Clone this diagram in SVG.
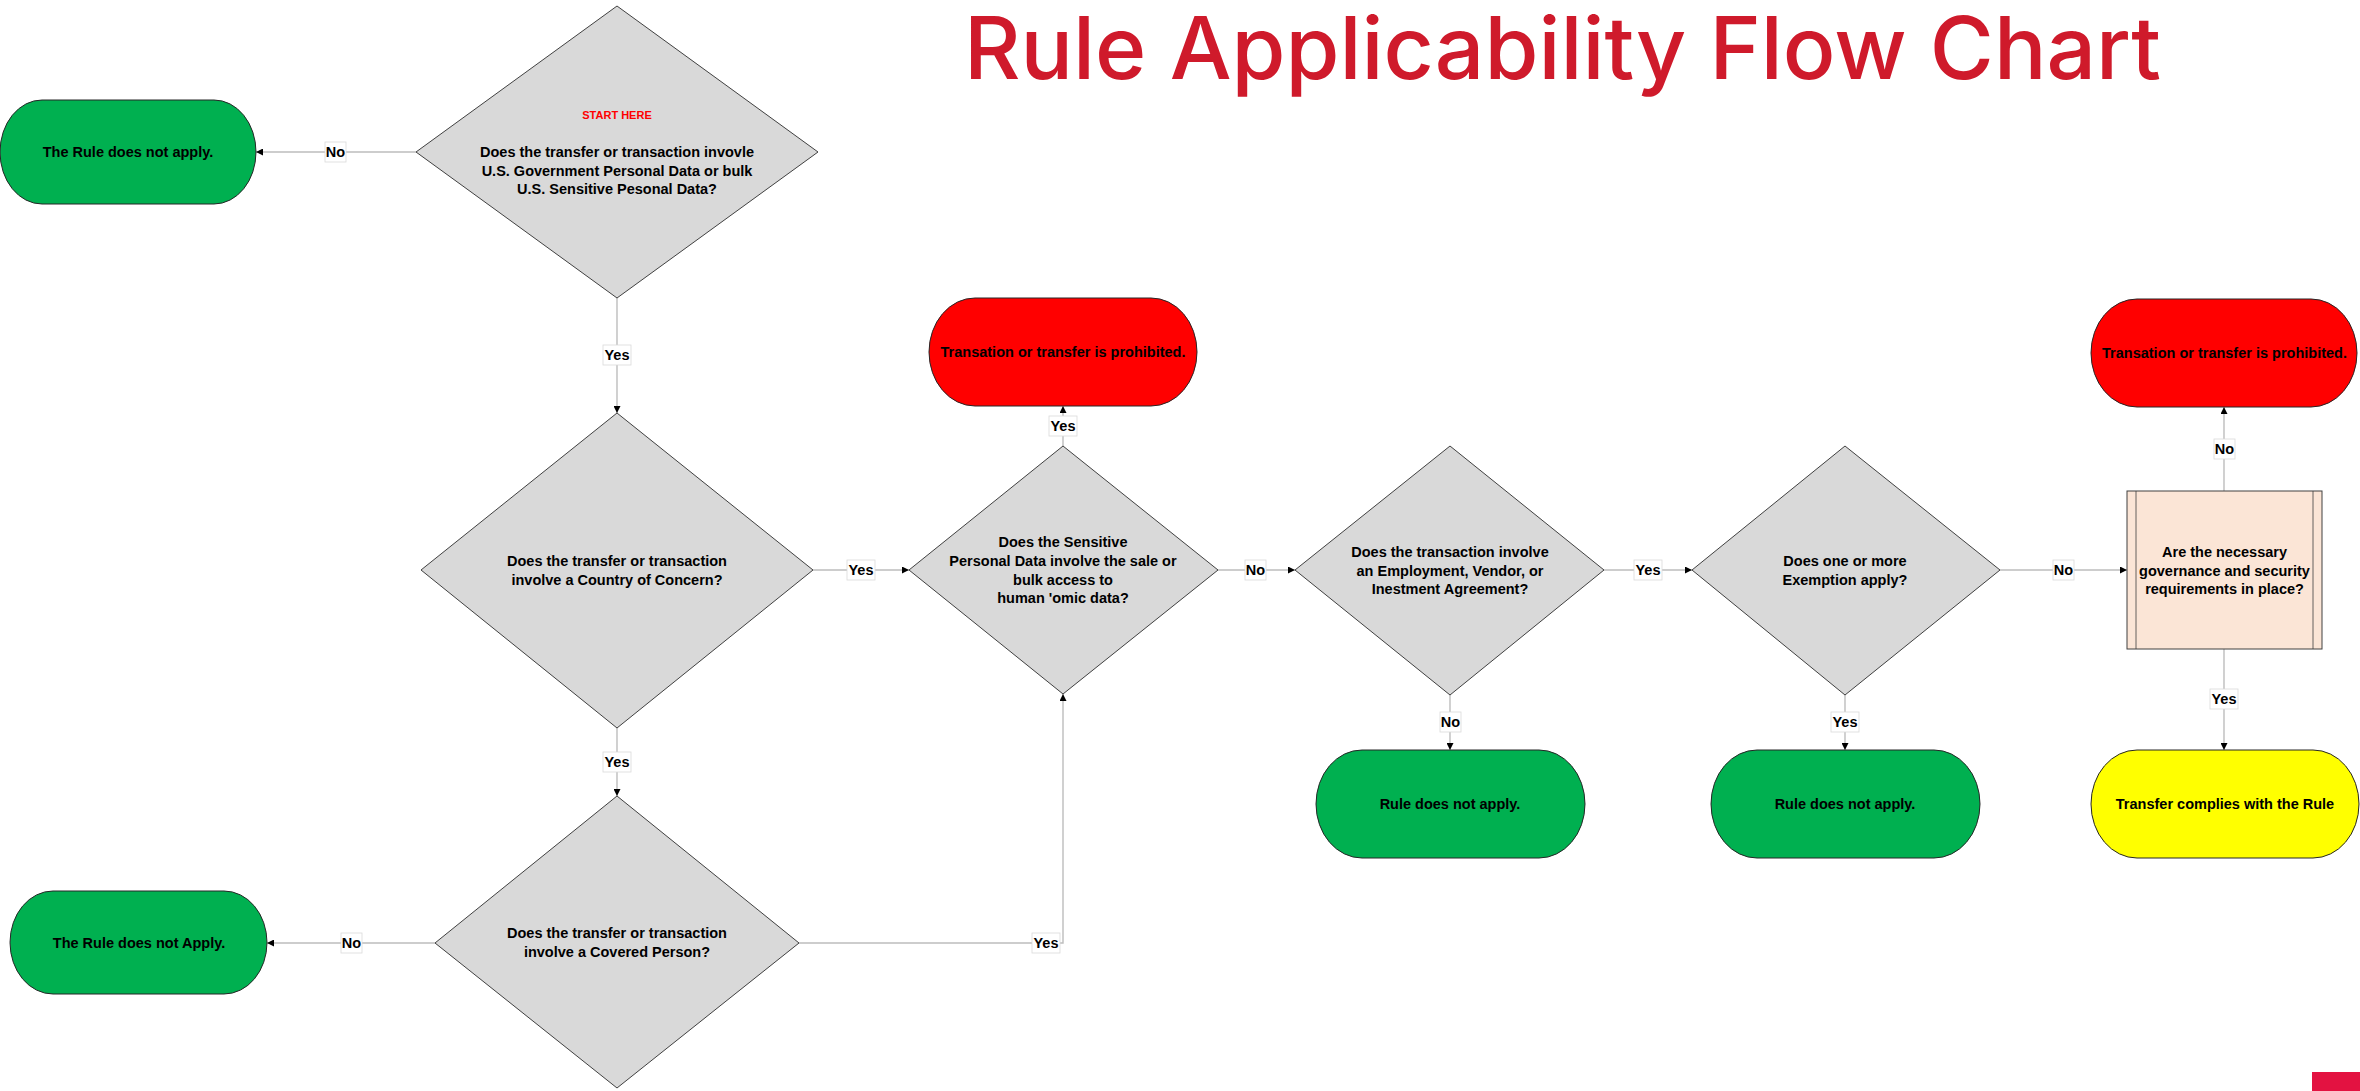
<svg xmlns="http://www.w3.org/2000/svg" width="2360" height="1091" viewBox="0 0 2360 1091">
<defs>
<style>
.dia{fill:#D9D9D9;stroke:#404040;stroke-width:1}
.term{stroke:#262626;stroke-width:1}
.g{fill:#00B050}.r{fill:#FF0000}.y{fill:#FFFF00}
.t{font-family:"Liberation Sans",Arial,sans-serif;font-weight:bold;font-size:14.5px;fill:#000;text-anchor:middle}
.start{font-family:"Liberation Sans",Arial,sans-serif;font-weight:bold;font-size:11px;fill:#FF0000;text-anchor:middle}
.conn{fill:none;stroke:#BDBDBD;stroke-width:1.4}
.lb{fill:#FFFFFF;stroke:#DADADA;stroke-width:0.8}
.lt{font-family:"Liberation Sans",Arial,sans-serif;font-weight:bold;font-size:14.5px;fill:#000;text-anchor:middle}
</style>
<marker id="ah" viewBox="0 0 10 10" refX="10" refY="5" markerWidth="7" markerHeight="7" markerUnits="userSpaceOnUse" orient="auto">
<path d="M0,0 L10,5 L0,10 Z" fill="#000"/>
</marker>
</defs>
<rect width="2360" height="1091" fill="#FFFFFF"/>
<text x="964" y="79" font-family="Inter, 'Open Sans', sans-serif" font-weight="500" font-size="86" fill="#CF1A2B" textLength="1197" lengthAdjust="spacingAndGlyphs">Rule Applicability Flow Chart</text>
<rect x="2312" y="1072" width="48" height="19" fill="#E31241"/>

<g id="connectors">
<path class="conn" d="M416,152 H256" marker-end="url(#ah)"/>
<path class="conn" d="M617,298 V413" marker-end="url(#ah)"/>
<path class="conn" d="M813,570 H909" marker-end="url(#ah)"/>
<path class="conn" d="M617,728 V796" marker-end="url(#ah)"/>
<path class="conn" d="M435,943 H267" marker-end="url(#ah)"/>
<path class="conn" d="M799,943 H1063 V694" marker-end="url(#ah)"/>
<path class="conn" d="M1063,446 V406" marker-end="url(#ah)"/>
<path class="conn" d="M1218,570 H1295" marker-end="url(#ah)"/>
<path class="conn" d="M1604,570 H1692" marker-end="url(#ah)"/>
<path class="conn" d="M1450,695 V750" marker-end="url(#ah)"/>
<path class="conn" d="M2000,570 H2127" marker-end="url(#ah)"/>
<path class="conn" d="M1845,695 V750" marker-end="url(#ah)"/>
<path class="conn" d="M2224,491 V407" marker-end="url(#ah)"/>
<path class="conn" d="M2224,649 V750" marker-end="url(#ah)"/>
<g id="labels">
<rect class="lb" x="325" y="142" width="21" height="20"/><text class="lt" x="335.5" y="157">No</text>
<rect class="lb" x="603" y="345" width="28" height="20"/><text class="lt" x="617" y="360">Yes</text>
<rect class="lb" x="847" y="560" width="28" height="20"/><text class="lt" x="861" y="575">Yes</text>
<rect class="lb" x="603" y="752" width="28" height="20"/><text class="lt" x="617" y="767">Yes</text>
<rect class="lb" x="341" y="933" width="21" height="20"/><text class="lt" x="351.5" y="948">No</text>
<rect class="lb" x="1032" y="933" width="28" height="20"/><text class="lt" x="1046" y="948">Yes</text>
<rect class="lb" x="1049" y="416" width="28" height="20"/><text class="lt" x="1063" y="431">Yes</text>
<rect class="lb" x="1245" y="560" width="21" height="20"/><text class="lt" x="1255.5" y="575">No</text>
<rect class="lb" x="1634" y="560" width="28" height="20"/><text class="lt" x="1648" y="575">Yes</text>
<rect class="lb" x="1440" y="712" width="21" height="20"/><text class="lt" x="1450.5" y="727">No</text>
<rect class="lb" x="2053" y="560" width="21" height="20"/><text class="lt" x="2063.5" y="575">No</text>
<rect class="lb" x="1831" y="712" width="28" height="20"/><text class="lt" x="1845" y="727">Yes</text>
<rect class="lb" x="2214" y="439" width="21" height="20"/><text class="lt" x="2224.5" y="454">No</text>
<rect class="lb" x="2210" y="689" width="28" height="20"/><text class="lt" x="2224" y="704">Yes</text>
</g>
</g>

<g id="n1">
<polygon class="dia" points="617,6 818,152 617,298 416,152"/>
<text class="start" x="617" y="119">START HERE</text>
<text class="t" x="617" y="157">Does the transfer or transaction invovle</text>
<text class="t" x="617" y="175.5">U.S. Government Personal Data or bulk</text>
<text class="t" x="617" y="194">U.S. Sensitive Pesonal Data?</text>
</g>
<g id="t1">
<path class="term g" d="M42,100 H214 A42,52 0 0 1 214,204 H42 A42,52 0 0 1 42,100 Z"/>
<text class="t" x="128" y="157">The Rule does not apply.</text>
</g>
<g id="n2">
<polygon class="dia" points="617,413 813,570 617,728 421,570"/>
<text class="t" x="617" y="566">Does the transfer or transaction</text>
<text class="t" x="617" y="585">involve a Country of Concern?</text>
</g>
<g id="n3">
<polygon class="dia" points="1063,446 1218,570 1063,694 909,570"/>
<text class="t" x="1063" y="547">Does the Sensitive</text>
<text class="t" x="1063" y="566">Personal Data involve the sale or</text>
<text class="t" x="1063" y="585">bulk access to</text>
<text class="t" x="1063" y="603">human 'omic data?</text>
</g>
<g id="p1">
<path class="term r" d="M975,298 H1151 A46,54 0 0 1 1151,406 H975 A46,54 0 0 1 975,298 Z"/>
<text class="t" x="1063" y="357">Transation or transfer is prohibited.</text>
</g>
<g id="n6">
<polygon class="dia" points="617,796 799,943 617,1088 435,943"/>
<text class="t" x="617" y="938">Does the transfer or transaction</text>
<text class="t" x="617" y="957">involve a Covered Person?</text>
</g>
<g id="t2">
<path class="term g" d="M53,891 H224 A43,51.5 0 0 1 224,994 H53 A43,51.5 0 0 1 53,891 Z"/>
<text class="t" x="139" y="948">The Rule does not Apply.</text>
</g>
<g id="n4">
<polygon class="dia" points="1450,446 1604,570 1450,695 1295,570"/>
<text class="t" x="1450" y="557">Does the transaction involve</text>
<text class="t" x="1450" y="575.5">an Employment, Vendor, or</text>
<text class="t" x="1450" y="594">Inestment Agreement?</text>
</g>
<g id="t3">
<path class="term g" d="M1362,750 H1539 A46,54 0 0 1 1539,858 H1362 A46,54 0 0 1 1362,750 Z"/>
<text class="t" x="1450" y="809">Rule does not apply.</text>
</g>
<g id="n5">
<polygon class="dia" points="1845,446 2000,570 1845,695 1692,570"/>
<text class="t" x="1845" y="566">Does one or more</text>
<text class="t" x="1845" y="585">Exemption apply?</text>
</g>
<g id="t4">
<path class="term g" d="M1757,750 H1934 A46,54 0 0 1 1934,858 H1757 A46,54 0 0 1 1757,750 Z"/>
<text class="t" x="1845" y="809">Rule does not apply.</text>
</g>
<g id="n7">
<rect x="2127" y="491" width="195" height="158" fill="#FBE5D6" stroke="#404040" stroke-width="1"/>
<line x1="2136" y1="491" x2="2136" y2="649" stroke="#404040" stroke-width="0.8"/>
<line x1="2313" y1="491" x2="2313" y2="649" stroke="#404040" stroke-width="0.8"/>
<text class="t" x="2224.5" y="557">Are the necessary</text>
<text class="t" x="2224.5" y="575.5">governance and security</text>
<text class="t" x="2224.5" y="594">requirements in place?</text>
</g>
<g id="p2">
<path class="term r" d="M2137,299 H2311 A46,54 0 0 1 2311,407 H2137 A46,54 0 0 1 2137,299 Z"/>
<text class="t" x="2224.5" y="358">Transation or transfer is prohibited.</text>
</g>
<g id="t5">
<path class="term y" d="M2137,750 H2313 A46,54 0 0 1 2313,858 H2137 A46,54 0 0 1 2137,750 Z"/>
<text class="t" x="2225" y="809">Transfer complies with the Rule</text>
</g>
</svg>
